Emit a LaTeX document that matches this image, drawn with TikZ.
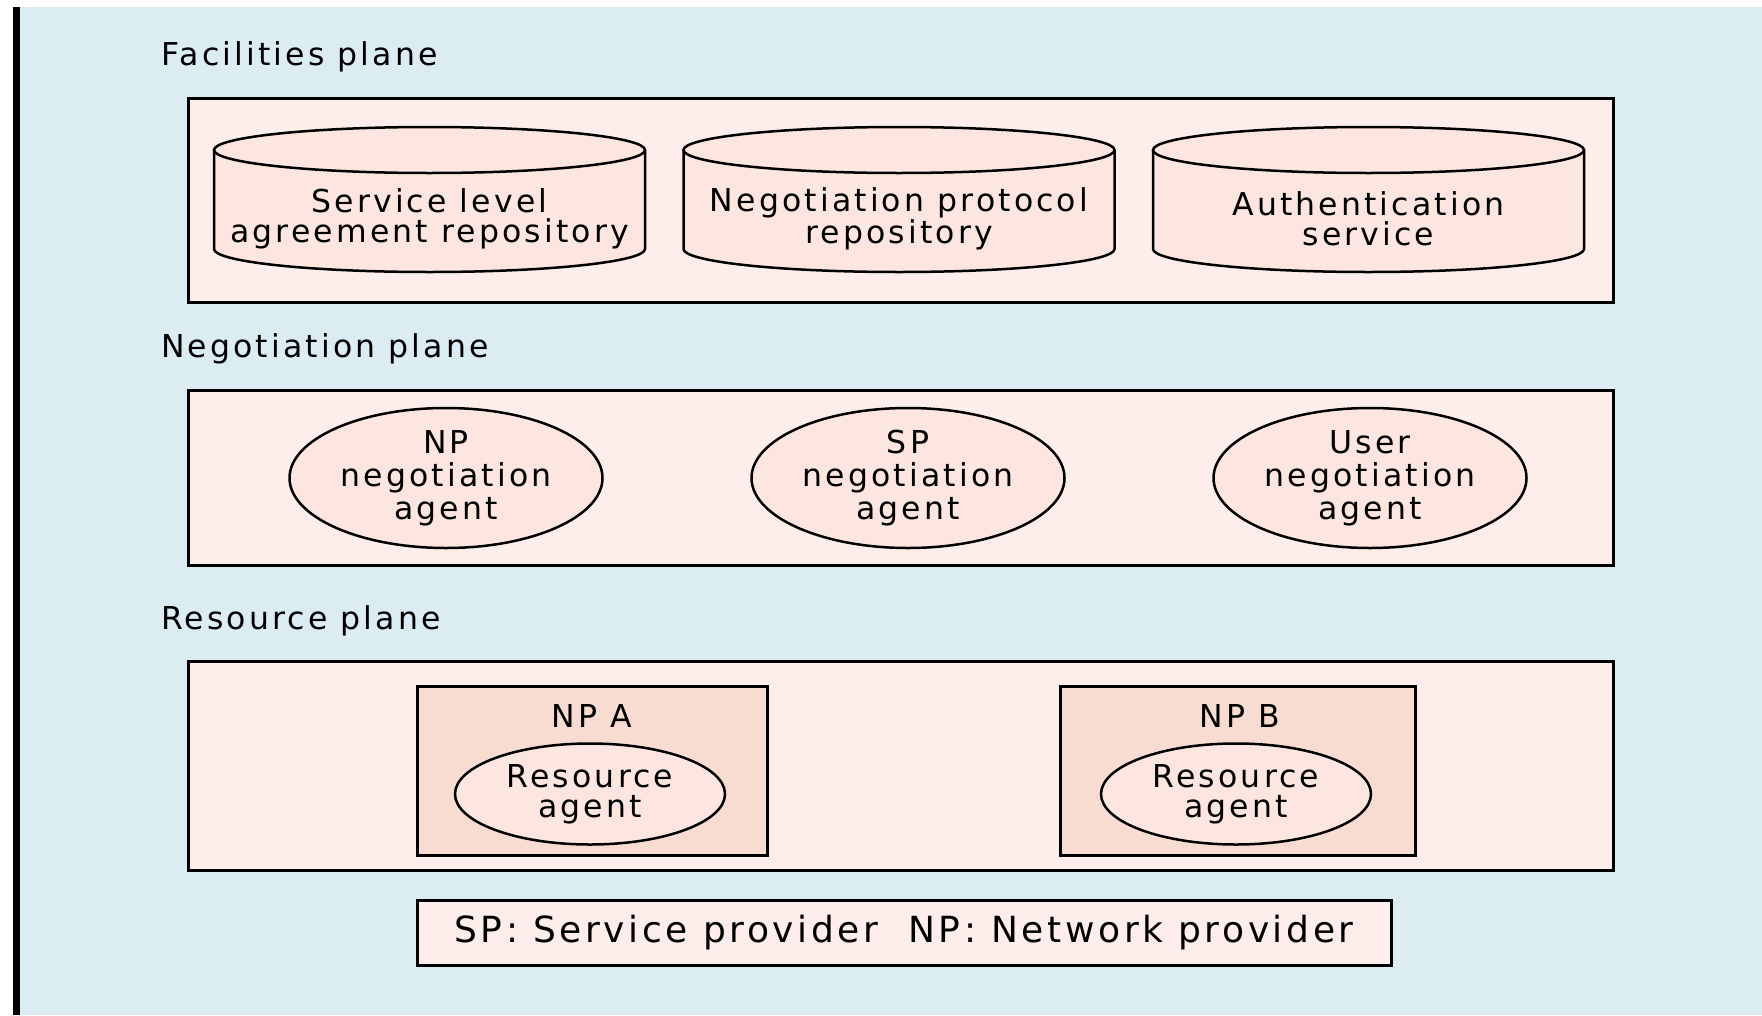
\documentclass[tikz,border=0pt]{standalone}
\usepackage{fontspec}
\setmainfont{DejaVu Sans}[LetterSpace=10]
\usepackage{tikz}
\usetikzlibrary{shapes.geometric}

\definecolor{skyback}{HTML}{DBECF3}
\definecolor{planefill}{HTML}{FDEEEB}
\definecolor{agentfill}{HTML}{FDE6DF}
\definecolor{npfill}{HTML}{F9DCD1}

\tikzset{
  planebox/.style={rectangle, draw, line width=3pt, fill=planefill, inner sep=0pt},
  npbox/.style={rectangle, draw, line width=3pt, fill=npfill, inner sep=0pt},
  agent/.style={ellipse, draw, line width=2.5pt, fill=agentfill, inner sep=0pt, align=center,
    font=\fontsize{31.5}{33}\selectfont},
  planelabel/.style={anchor=base west, inner sep=0pt},
  repotext/.style={inner sep=0pt, align=center, font=\fontsize{31.5}{30}\selectfont}
}

\newcommand{\drawrepo}[3]{%
  \filldraw[fill=agentfill, line width=2.5pt] (#2-215.5,150) -- (#2-215.5,249)
    arc[start angle=180, end angle=0, x radius=215.5, y radius=23] -- (#2+215.5,150);
  \filldraw[fill=agentfill, line width=2.5pt] (#2,150) ellipse[x radius=215.5, y radius=23];
  \node[repotext] (#1) at (#2,219) {#3};
}

\begin{document}
\begin{tikzpicture}[x=1pt, y=-1pt, font=\fontsize{31.5}{32}\selectfont]
\useasboundingbox (0,0) rectangle (1762,1015);
\fill[skyback] (20,7) rectangle (1762,1015);
\fill[black] (13,7) rectangle (20,1015);

\begin{scope}[every node/.style={planelabel}]
  \node (facl) at (161,65) {Facilities plane};
  \node (negl) at (161,357) {Negotiation plane};
  \node (resl) at (161,629) {Resource plane};
\end{scope}

\node[planebox, minimum width=1425, minimum height=204] (facbox) at (900.5,200) {};
\node[planebox, minimum width=1425, minimum height=175] (negbox) at (900.5,477.5) {};
\node[planebox, minimum width=1425, minimum height=209] (resbox) at (900.5,765.5) {};

\drawrepo{slarepo}{429.5}{Service level\\agreement repository}
\drawrepo{protorepo}{899}{Negotiation protocol\\repository}
\drawrepo{authsrv}{1368.5}{Authentication\\service}

\begin{scope}[every node/.style={agent, minimum width=313, minimum height=140}]
  \node (npneg) at (446,478) {NP\\negotiation\\agent};
  \node (spneg) at (908,478) {SP\\negotiation\\agent};
  \node (userneg) at (1370,478) {User\\negotiation\\agent};
\end{scope}

\node[npbox, minimum width=350, minimum height=169] (npa) at (592,770.5) {};
\node[npbox, minimum width=355, minimum height=169] (npb) at (1237.5,770.5) {};
\node[inner sep=0pt, anchor=base] (npatitle) at (592,727) {NP A};
\node[inner sep=0pt, anchor=base] (npbtitle) at (1240,727) {NP B};

\begin{scope}[every node/.style={agent, minimum width=270, minimum height=101,
    font=\fontsize{31.5}{30}\selectfont}]
  \node (resa) at (590,794) {Resource\\agent};
  \node (resb) at (1236,794) {Resource\\agent};
\end{scope}

\node[planebox, minimum width=974, minimum height=65, font=\fontsize{36}{38}\selectfont]
  (legend) at (904,932.5) {SP: Service provider\ \ NP: Network provider};
\end{tikzpicture}
\end{document}
